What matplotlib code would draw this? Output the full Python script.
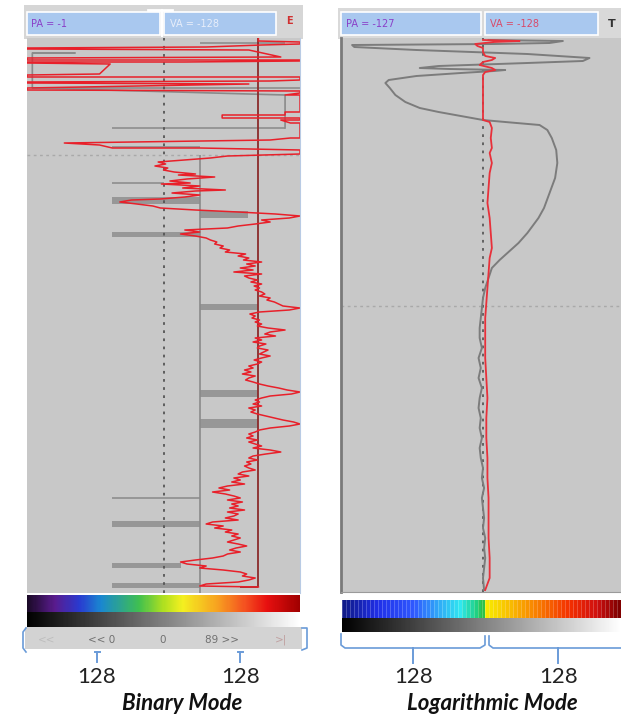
import matplotlib
matplotlib.use("Agg")
import matplotlib.pyplot as plt
import numpy as np
from matplotlib.colors import LinearSegmentedColormap, ListedColormap
from matplotlib.patches import Rectangle

W, H = 621, 718

# ---- Binary mode panel (amplitude -128..128, depth in samples) ----
bin_red_depth = [
    0, 3, 4, 6, 7, 9, 10, 11, 12, 19, 20, 22, 22, 23, 24, 24, 25, 26,
    36, 37, 39, 39, 42, 43, 44, 45, 46, 50, 52, 53, 55, 57, 57, 74, 74,
    77, 77, 80, 80, 82, 82, 85, 85, 100, 100, 102, 105, 107, 110, 110, 112, 115,
    116, 118, 120, 122, 124, 126, 128, 130, 132, 134, 136, 137, 139, 141, 143, 145,
    146, 148, 150, 152, 153, 155, 157, 159, 161, 162, 164, 166, 168, 170, 172, 174,
    176, 178, 180, 182, 184, 186, 188, 190, 192, 194, 196, 198, 200, 202, 204, 206,
    208, 210, 212, 214, 216, 218, 220, 222, 224, 226, 228, 230, 232, 234, 236, 238,
    240, 242, 244, 246, 248, 250, 252, 254, 256, 258, 260, 262, 264, 266, 268, 270,
    272, 274, 276, 278, 280, 282, 284, 286, 288, 290, 292, 294, 296, 298, 300, 302,
    304, 306, 308, 310, 312, 314, 316, 318, 320, 322, 324, 326, 328, 330, 332, 334,
    336, 338, 340, 342, 344, 346, 348, 350, 352, 354, 356, 358, 360, 362, 364, 366,
    368, 370, 372, 374, 376, 378, 380, 382, 384, 386, 388, 390, 392, 394, 396, 398,
    400, 402, 404, 406, 408, 410, 412, 414, 416, 418, 420, 422, 424, 426, 428, 430,
    432, 434, 436, 438, 440, 442, 444, 446, 448, 450, 452, 454, 456, 458, 460, 462,
    464, 466, 468, 470, 472, 474, 476, 478, 480, 482, 484, 486, 488, 490, 492, 494,
    496, 498, 500, 502, 504, 506, 508, 510, 512, 514, 516, 518, 520, 522, 524, 526,
    528, 530, 532, 534, 536, 538, 540, 542, 544, 546, 548, 549,
]
bin_red_value = [
    89, 89, 128, 128, 92, 40, -128, -128, 80, 110, -128, -128, 128, 128, 20, -128, -128, -50,
    -60, -128, -128, 128, 128, 100, -128, -128, 80, -128, -128, 128, 128, 114, 128, 128, 114,
    114, 55, 55, 128, 128, 110, 119, 128, 128, 119, 100, -93, -60, -48, 34, 128, 128,
    128, 60, 44, 20, -5, 2, -8, 4, 0, 10, 30, 14, 48, 22, 6, 25,
    -2, 34, 18, 58, 30, 8, 34, 20, -3, -30, -41, -25, -10, -3, 30, 70,
    105, 128, 118, 92, 100, 86, 70, 60, 20, 34, 16, 30, 40, 44, 50, 48,
    56, 53, 62, 58, 77, 70, 80, 75, 92, 78, 86, 72, 84, 66, 92, 76,
    80, 88, 82, 92, 85, 90, 86, 92, 95, 90, 100, 97, 104, 108, 112, 128,
    118, 90, 81, 86, 83, 90, 86, 92, 88, 98, 114, 100, 95, 105, 86, 92,
    84, 96, 90, 88, 98, 94, 90, 100, 92, 85, 92, 88, 80, 84, 76, 82,
    74, 86, 80, 77, 84, 90, 98, 108, 116, 128, 120, 100, 92, 86, 90, 84,
    92, 80, 86, 82, 88, 96, 104, 112, 122, 128, 118, 100, 90, 86, 80, 84,
    78, 88, 80, 86, 92, 84, 100, 110, 96, 84, 80, 88, 78, 82, 76, 80,
    86, 74, 70, 80, 66, 72, 64, 76, 60, 52, 62, 46, 58, 66, 72, 60,
    74, 64, 70, 62, 76, 60, 70, 66, 58, 70, 46, 40, 56, 48, 64, 58,
    70, 64, 72, 66, 60, 70, 78, 68, 62, 72, 60, 56, 46, 30, 16, 22,
    40, 34, 56, 72, 78, 74, 86, 80, 70, 40, 34, 89,
]

# gray "binary" bands: depth, thickness, left, right
band_depth = [5, 15, 50, 90, 109, 145, 162, 176, 196, 269, 355, 385, 460, 486, 527, 547]
band_height = [1.2, 1.5, 1.5, 1.5, 1.5, 2, 7, 7, 5, 6, 7, 9, 1.5, 6, 5, 5]
band_left = [34, -123, -123, -48, -48, -48, -48, 34, -48, 34, 34, 34, -48, -48, -48, -48]
band_right = [114, -83, 128, 114, 34, 0, 34, 79, 34, 89, 89, 89, 34, 34, 16, 34]

bin_gray_depth = [15, 15, 37, 50, 57, 84, 90]
bin_gray_value = [-83, -123, -123, -123, 114, 114, 114]

# ---- Logarithmic mode panel ----
log_gray_depth = [
    2, 3, 5, 6, 7, 9, 12, 16, 20, 23, 25, 28, 30, 31, 32, 33, 35, 38, 42, 45, 50,
    57, 64, 70, 74, 78, 82, 84, 87, 92, 100, 112, 125, 140, 155, 170, 180, 195,
    205, 215, 222, 230, 240, 250, 260, 270, 280, 290, 300, 310, 320, 330, 340,
    350, 360, 370, 380, 390, 400, 410, 420, 430, 440, 450, 460, 470, 480, 490,
    500, 510, 520, 530, 540, 552,
]
log_gray_value = [
    5, 72, 60, 10, -118, -116, -60, 40, 96, 90, 40, -40, -57, -30, 20, 10, -20, -60, -85, -88, -84,
    -79, -70, -57, -40, -20, 0, 20, 51, 58, 62, 66, 67, 65, 60, 55, 50, 40,
    32, 22, 15, 8, 5, 2, 0, -1, -2, -3, -3, -1, -4, -2, -4,
    -1, -3, -4, -2, -3, -1, -3, -2, 0, -1, 1, -1, 0, 1, 0,
    2, 1, 2, 1, 0, 1,
]
log_red_depth = [
    2, 3, 4, 6, 8, 10, 14, 18, 20, 22, 24, 27, 30, 32, 34, 37, 45, 60, 82, 84,
    90, 100, 110, 115, 125, 135, 150, 165, 180, 195, 210, 220, 235, 250, 265,
    280, 300, 320, 340, 360, 380, 400, 420, 440, 460, 480, 500, 520, 540, 552,
]
log_red_value = [
    0, 33, 10, -7, -5, 0, 0, 2, 11, 8, 0, -3, 8, 11, 2, 0, 0, 0, 0, 6,
    8, 7, 8, 6, 8, 6, 5, 4, 6, 7, 8, 6, 5, 4, 3,
    2, 2, 2, 3, 4, 3, 3, 4, 4, 5, 5, 5, 6, 6, 2,
]

bottom_labels = ["128", "128", "128", "128"]
mode_names = ["Binary Mode", "Logarithmic Mode"]


def px_axes(fig, x0, y0, x1, y1):
    return fig.add_axes([x0 / W, 1 - y1 / H, (x1 - x0) / W, (y1 - y0) / H])


def bar_axes(fig, x0, y0, x1, y1, cmap, n=256):
    ax = px_axes(fig, x0, y0, x1, y1)
    ax.imshow(np.linspace(0, 1, n)[None, :], aspect="auto", cmap=cmap, interpolation="nearest")
    ax.axis("off")
    return ax


def main():
    fig = plt.figure(figsize=(W / 100, H / 100), dpi=100)
    fig.patch.set_facecolor("white")

    ov = fig.add_axes([0, 0, 1, 1])
    ov.set_xlim(0, W)
    ov.set_ylim(H, 0)
    ov.axis("off")

    # header strips
    ov.add_patch(Rectangle((24, 5), 279, 34, fc="#d6d6d6", ec="none"))
    ov.add_patch(Rectangle((27, 12), 133, 23, fc="#a9c8ef", ec="white", lw=1.2))
    ov.add_patch(Rectangle((164, 12), 112, 23, fc="#a9c8ef", ec="white", lw=1.2))
    ov.plot([148, 172], [10, 10], color="white", lw=2)
    ov.plot([162, 162], [10, 36], color="white", lw=1.5)
    ov.text(31, 24, "PA = -1", color="#8a3fc8", fontsize=7, va="center")
    ov.text(170, 24, "VA = -128", color="#e8eefa", fontsize=7, va="center")
    ov.text(289, 21, "E", color="#d03030", fontsize=7, va="center", ha="center", fontweight="bold")

    ov.add_patch(Rectangle((338, 8), 283, 31, fc="#d9d9d9", ec="none"))
    ov.add_patch(Rectangle((341, 12), 140, 23, fc="#a9c8ef", ec="white", lw=1.2))
    ov.add_patch(Rectangle((485, 12), 113, 23, fc="#a9c8ef", ec="white", lw=1.2))
    ov.text(346, 24, "PA = -127", color="#8a3fc8", fontsize=7, va="center")
    ov.text(490, 24, "VA = -128", color="#d84a6a", fontsize=7, va="center")
    ov.text(612, 24, "T", color="#333333", fontsize=8, va="center", ha="center", fontweight="bold")

    # bottom navigation row of binary panel
    ov.add_patch(Rectangle((25, 627), 277, 22, fc="#d3d3d3", ec="none"))
    for x, s, c in [(47, "<<", "#bdbdbd"), (102, "<< 0", "#707070"), (163, "0", "#707070"),
                    (222, "89 >>", "#707070"), (281, ">|", "#c0a0a0")]:
        ov.text(x, 640, s, color=c, fontsize=7.5, ha="center", va="center")

    blue = "#6a9bd8"
    # brackets of binary panel
    ov.plot([26, 23, 23, 26], [628, 632, 648, 652], color=blue, lw=1.2)
    ov.plot([302, 307, 307, 302], [628, 628, 648, 650], color=blue, lw=1.2)
    for x in (97, 240):
        ov.plot([x, x], [652, 662], color=blue, lw=1.4)
        ov.plot([x - 2.5, x + 2.5], [652, 652], color=blue, lw=1.4)
    # braces of log panel
    ov.plot([341, 341, 345, 480, 485, 485], [634, 645, 648, 648, 645, 636], color=blue, lw=1.2)
    ov.plot([489, 489, 493, 621], [636, 645, 648, 648], color=blue, lw=1.2)
    for x in (413, 558):
        ov.plot([x, x], [648, 663], color=blue, lw=1.4)

    lab_x = [97, 241, 414, 559]
    for x, s in zip(lab_x, bottom_labels):
        ov.text(x, 677, s, fontsize=16, family="Lato", color="#222222", ha="center", va="center")
    ov.text(182, 704, mode_names[0], fontsize=16, family="Lato", fontweight="bold",
            style="italic", color="#111111", ha="center", va="center")
    ov.text(492, 704, mode_names[1], fontsize=16, family="Lato", fontweight="bold",
            style="italic", color="#111111", ha="center", va="center")

    # ---- binary mode panel ----
    ax = px_axes(fig, 27, 38, 300, 593)
    ax.set_facecolor("#c8c8c8")
    ax.set_xlim(-128, 128)
    ax.set_ylim(555, 0)
    ax.set_xticks([])
    ax.set_yticks([])
    for s in ax.spines.values():
        s.set_visible(False)
    ax.spines["right"].set_visible(True)
    ax.spines["right"].set_color("#b9cbe4")
    ax.axhline(117, color="#a9a9a9", ls=(0, (2, 2.5)), lw=1)
    ax.axvline(0, color="#555555", ls=(0, (1.5, 3)), lw=1.3)
    ax.vlines(34, 117, 555, color="#8a8a8a", lw=1.2)
    ax.barh(band_depth, np.array(band_right) - np.array(band_left), left=band_left,
            height=band_height, color="#8f8f8f", alpha=0.85, lw=0)
    ax.plot(bin_gray_value, bin_gray_depth, color="#8a8a8a", lw=1.2)
    ax.vlines(89, 0, 549, color="#8b2a2a", lw=1.3)
    ax.hlines(549, 72, 89, color="#8b2a2a", lw=1.3)
    ax.plot(bin_red_value, bin_red_depth, color="#e8202a", lw=1.1)

    # ---- logarithmic mode panel ----
    ax2 = px_axes(fig, 341, 38, 621, 592)
    ax2.set_facecolor("#c8c8c8")
    ax2.set_xlim(-128, 124.4)
    ax2.set_ylim(554, 0)
    ax2.set_xticks([])
    ax2.set_yticks([])
    for s in ax2.spines.values():
        s.set_visible(False)
    ax2.spines["left"].set_visible(True)
    ax2.spines["left"].set_color("#7a7a7a")
    ax2.spines["left"].set_linewidth(2)
    ax2.spines["bottom"].set_visible(True)
    ax2.spines["bottom"].set_color("#9a9a9a")
    ax2.axhline(268, color="#a9a9a9", ls=(0, (2, 2.5)), lw=1)
    ax2.axvline(0, color="#5a5a5a", ls=(0, (1.5, 3)), lw=1.3)
    ax2.plot(log_gray_value, log_gray_depth, color="#7c7c7c", lw=1.4)
    ax2.plot(log_red_value, log_red_depth, color="#e8303a", lw=1.3)

    # ---- colour bars ----
    rainbow = LinearSegmentedColormap.from_list("bin", [
        (0.0, "#1a0a26"), (0.1, "#5a1c8e"), (0.19, "#2a3ad0"), (0.27, "#1a88d0"),
        (0.41, "#40c050"), (0.5, "#b0e020"), (0.57, "#f4f020"), (0.7, "#f8a020"),
        (0.8, "#f45020"), (0.88, "#e81010"), (1.0, "#a00000")])
    bar_axes(fig, 27, 595, 300, 612, rainbow)
    bar_axes(fig, 27, 612, 300, 627, "gray")

    logc = LinearSegmentedColormap.from_list("log", [
        (0.0, "#101a8a"), (0.12, "#2030e8"), (0.25, "#3058ff"), (0.33, "#30a0f8"),
        (0.42, "#30e8f0"), (0.48, "#20d080"), (0.51, "#30c040"), (0.512, "#f8f000"),
        (0.6, "#f8c000"), (0.7, "#f88000"), (0.82, "#f43000"), (0.92, "#d01010"),
        (1.0, "#800000")])
    seg = ListedColormap(logc(np.linspace(0, 1, 70)))
    bx = bar_axes(fig, 342, 600, 621, 618, seg, n=70)
    for k in range(70):
        bx.axvline(k - 0.5, color="white", lw=0.6, alpha=0.25)
    bar_axes(fig, 342, 618, 621, 632, "gray")

    fig.savefig("out.png", dpi=100)
    plt.close(fig)


if __name__ == "__main__":
    main()
